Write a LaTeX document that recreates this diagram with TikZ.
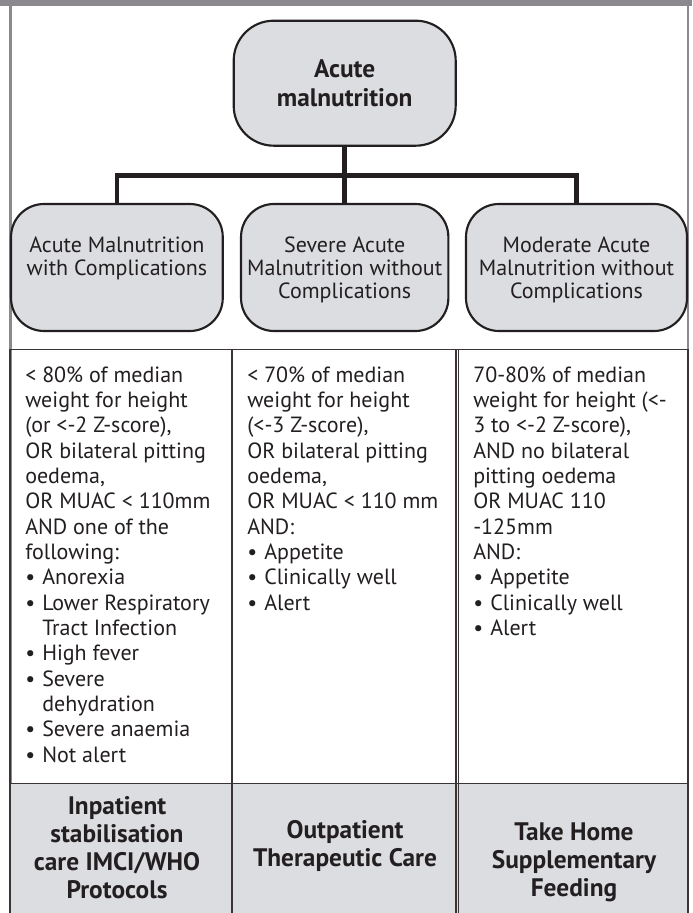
\documentclass[tikz,border=0pt]{standalone}
\usepackage{fontspec}
\setmainfont{PT Sans}
\definecolor{framegray}{HTML}{8B898E}
\definecolor{boxfill}{HTML}{DCDDE1}
\definecolor{ink}{HTML}{231F20}
\definecolor{gridline}{HTML}{3A3434}
\tikzset{
  rootbox/.style={draw=ink, line width=1.6pt, fill=boxfill, rounded corners=30pt,
    minimum width=166.5pt, minimum height=93.75pt, inner sep=0pt},
  childbox/.style={draw=ink, line width=1.6pt, fill=boxfill, rounded corners=24.75pt,
    minimum height=95.25pt, inner sep=0pt},
  roottext/.style={font=\bfseries\fontsize{19pt}{21.75pt}\selectfont, align=center,
    text=ink, inner sep=0pt, anchor=north},
  childtext/.style={font=\fontsize{16.5pt}{17.25pt}\selectfont, align=center,
    text=ink, inner sep=0pt, anchor=north},
  celltext/.style={font=\fontsize{16.5pt}{19pt}\selectfont, align=left,
    text=ink, inner sep=0pt, anchor=north west},
  caretext/.style={font=\bfseries\fontsize{19pt}{21pt}\selectfont, align=center,
    text=ink, inner sep=0pt, anchor=north},
  conn/.style={draw=ink, line width=3.4pt},
  tabline/.style={draw=gridline, line width=0.9pt},
}
\newcommand{\bul}{\makebox[12.75pt][l]{•}}
\newcommand{\cont}{\hspace*{12.75pt}}
\begin{document}
\begin{tikzpicture}[x=0.75pt,y=-0.75pt]
  \useasboundingbox (0,0) rectangle (692,913);
  \fill[white] (0,0) rectangle (692,913);
  % page frame
  \fill[framegray] (0,0) rectangle (692,6.5);
  \fill[framegray] (9,6.5) rectangle (11.7,913);
  \fill[framegray] (686.7,6.5) rectangle (689,913);

  % tree
  \coordinate (bar) at (344.7,175.5);
  \node[rootbox] (root) at (344.7,83.2) {};
  \node[childbox, minimum width=158.8pt] (c1) at (116.9,267.5) {};
  \node[childbox, minimum width=155.5pt] (c2) at (344.7,267.5) {};
  \node[childbox, minimum width=165.75pt] (c3) at (576.5,267.5) {};
  \draw[conn] (root.south) -- (c2.north);
  \draw[conn, line join=miter] (c1.north) |- (bar) -| (c3.north);

  \node[roottext] (rootlabel) at (344.7,56.7) {\strut Acute\\malnutrition};
  \node[childtext] (c1label) at (116.9,235.9) {\strut Acute Malnutrition\\with Complications};
  \node[childtext] (c2label) at (344.7,235.9) {\strut Severe Acute\\Malnutrition without\\Complications};
  \node[childtext] (c3label) at (576.5,235.9) {\strut Moderate Acute\\Malnutrition without\\Complications};

  % table
  \fill[boxfill] (10,783.3) rectangle (688,915);
  \draw[tabline] (10,915) -- (10,349.5) -- (688,349.5) -- (688,915);
  \draw[tabline] (10,783.3) -- (688,783.3);
  \draw[tabline] (232,349.5) -- (232,915);
  \draw[tabline] (456,349.5) -- (456,915);
  \draw[tabline] (458.7,349.5) -- (458.7,915);

  \node[celltext] (crit1) at (25,364.3) {\strut < 80\% of median\\
    weight for height\\
    (or <-2 Z-score),\\
    OR bilateral pitting\\
    oedema,\\
    OR MUAC < 110mm\\
    AND one of the\\
    following:\\
    \bul Anorexia\\
    \bul Lower Respiratory\\
    \cont Tract Infection\\
    \bul High fever\\
    \bul Severe\\
    \cont dehydration\\
    \bul Severe anaemia\\
    \bul Not alert};
  \node[celltext] (crit2) at (247,364.3) {\strut < 70\% of median\\
    weight for height\\
    (<-3 Z-score),\\
    OR bilateral pitting\\
    oedema,\\
    OR MUAC < 110 mm\\
    AND:\\
    \bul Appetite\\
    \bul Clinically well\\
    \bul Alert};
  \node[celltext] (crit3) at (473,364.3) {\strut 70-80\% of median\\
    weight for height (<-\\
    3 to <-2 Z-score),\\
    AND no bilateral\\
    pitting oedema\\
    OR MUAC 110\\
    -125mm\\
    AND:\\
    \bul Appetite\\
    \bul Clinically well\\
    \bul Alert};

  \node[caretext] (care1) at (117,794.4) {\strut Inpatient\\stabilisation\\care IMCI/WHO\\Protocols};
  \node[caretext] (care2) at (345,818.4) {\strut Outpatient\\Therapeutic Care};
  \node[caretext] (care3) at (574,820.4) {\strut Take Home\\Supplementary\\Feeding};
\end{tikzpicture}
\end{document}
